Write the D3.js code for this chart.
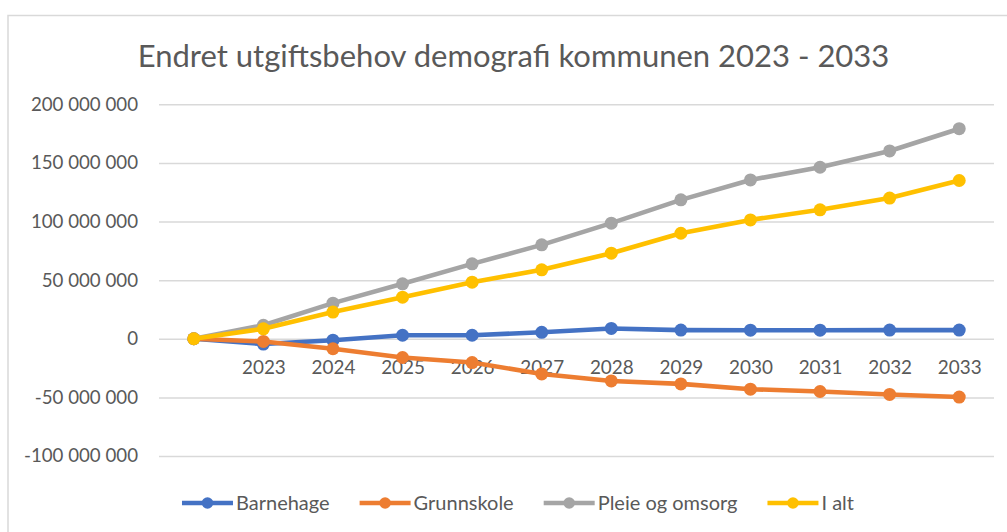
<!DOCTYPE html>
<html>
<head>
<meta charset="utf-8">
<script src="https://cdn.jsdelivr.net/npm/d3@7"></script>
<style>
  body { margin: 0; background: #fff; }
  svg text { font-family: Lato, "Noto Sans", sans-serif; fill: #595959; }
</style>
</head>
<body>
<svg id="chart" width="1007" height="532"></svg>
<script>
var categories = ["", "2023", "2024", "2025", "2026", "2027", "2028", "2029", "2030", "2031", "2032", "2033"];
var barnehage = [0, -4500000, -1200000, 3000000, 3000000, 5500000, 8800000, 7400000, 7300000, 7300000, 7400000, 7400000];
var grunnskole = [0, -2300000, -8500000, -16000000, -20300000, -30000000, -36000000, -38500000, -43000000, -45000000, -47500000, -49700000];
var pleie = [0, 11500000, 30400000, 46900000, 63900000, 80100000, 98600000, 118500000, 135500000, 146300000, 160200000, 179200000];
var ialt = [0, 8500000, 22800000, 35500000, 48300000, 58800000, 73000000, 90000000, 101400000, 110000000, 120000000, 135000000];
var yTicks = [-100000000, -50000000, 0, 50000000, 100000000, 150000000, 200000000];
var seriesNames = ["Barnehage", "Grunnskole", "Pleie og omsorg", "I alt"];
var seriesColors = ["#4472C4", "#ED7D31", "#A5A5A5", "#FFC000"];

var series = [barnehage, grunnskole, pleie, ialt].map(function (vals, i) {
  return { name: seriesNames[i], color: seriesColors[i], values: vals };
});

var svg = d3.select("#chart");
var plotLeft = 159, plotRight = 994, plotTop = 104.3, plotBottom = 456;

// chart frame
svg.append("rect")
  .attr("x", 8).attr("y", 15.5)
  .attr("width", 1100).attr("height", 600)
  .attr("fill", "#fff")
  .attr("stroke", "#d9d9d9")
  .attr("stroke-width", 1.5);

svg.append("text")
  .attr("x", 513.5).attr("y", 67)
  .attr("text-anchor", "middle")
  .style("font-size", "31px")
  .text("Endret utgiftsbehov demografi kommunen 2023 - 2033");

var x = d3.scalePoint()
  .domain(categories.map(function (d, i) { return i; }))
  .range([plotLeft, plotRight])
  .padding(0.5);

var y = d3.scaleLinear()
  .domain([-100000000, 200000000])
  .range([plotBottom, plotTop]);

var fmt = d3.formatLocale({ decimal: ",", thousands: " ", grouping: [3], currency: ["", " kr"], minus: "-" }).format(",d");

var yAxis = svg.append("g")
  .attr("transform", "translate(" + plotLeft + ",0)")
  .call(d3.axisLeft(y).tickValues(yTicks).tickFormat(fmt)
    .tickSizeInner(-(plotRight - plotLeft)).tickSizeOuter(0).tickPadding(21));
yAxis.select(".domain").remove();
yAxis.selectAll(".tick line").attr("stroke", "#d9d9d9").attr("stroke-width", 1.5);
yAxis.selectAll(".tick text").style("font-size", "18.7px").attr("fill", "#595959");

var xAxis = svg.append("g")
  .attr("transform", "translate(0," + y(0) + ")")
  .call(d3.axisBottom(x).tickFormat(function (i) { return categories[i]; })
    .tickSize(0).tickPadding(22));
xAxis.select(".domain").remove();
xAxis.selectAll(".tick text").style("font-size", "18.9px").attr("fill", "#595959");

var line = d3.line()
  .x(function (d, i) { return x(i); })
  .y(function (d) { return y(d); });

var g = svg.append("g").selectAll("g").data(series).enter().append("g");

g.append("path")
  .attr("d", function (d) { return line(d.values); })
  .attr("fill", "none")
  .attr("stroke", function (d) { return d.color; })
  .attr("stroke-width", 4.6)
  .attr("stroke-linejoin", "round");

g.selectAll("circle")
  .data(function (d) { return d.values.map(function (v, i) { return { v: v, i: i, c: d.color }; }); })
  .enter().append("circle")
  .attr("cx", function (d) { return x(d.i); })
  .attr("cy", function (d) { return y(d.v); })
  .attr("r", 6.5)
  .attr("fill", function (d) { return d.c; });

// legend
var legend = svg.append("g");
var lx = 0, legendY = 503;
series.forEach(function (s) {
  var item = legend.append("g").attr("transform", "translate(" + lx + ",0)");
  item.append("line")
    .attr("x1", 0).attr("x2", 51)
    .attr("y1", legendY).attr("y2", legendY)
    .attr("stroke", s.color).attr("stroke-width", 4.5);
  item.append("circle")
    .attr("cx", 25.5).attr("cy", legendY).attr("r", 5.8)
    .attr("fill", s.color);
  var t = item.append("text")
    .attr("x", 54).attr("y", legendY)
    .attr("dy", "0.35em")
    .style("font-size", "20px")
    .text(s.name);
  lx += 54 + t.node().getComputedTextLength() + 30;
});
var legendWidth = lx - 30;
legend.attr("transform", "translate(" + (518 - legendWidth / 2) + ",0)");
</script>
</body>
</html>
